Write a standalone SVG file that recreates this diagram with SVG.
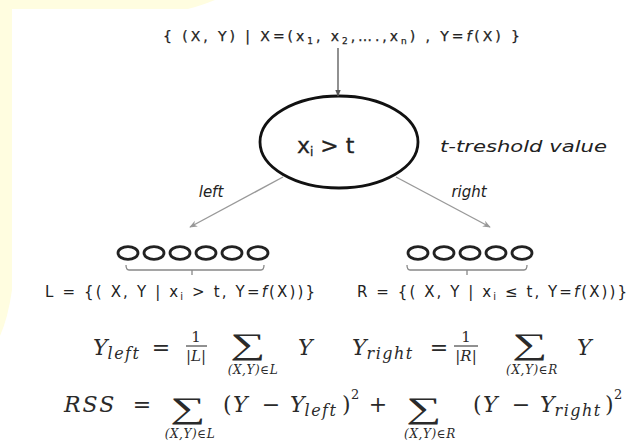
<svg xmlns="http://www.w3.org/2000/svg" width="632" height="445" viewBox="0 0 632 445">
<defs>
<marker id="ah" viewBox="0 0 10 10" refX="9" refY="5" markerWidth="7" markerHeight="7" orient="auto" markerUnits="userSpaceOnUse">
<path d="M0,1 L10,5 L0,9 Z" fill="#555"/>
</marker>
<marker id="ahg" viewBox="0 0 10 10" refX="9" refY="5" markerWidth="8" markerHeight="8" orient="auto" markerUnits="userSpaceOnUse">
<path d="M0,1 L10,5 L0,9 L3,5 Z" fill="#999"/>
</marker>
</defs>
<style>
.t{font-family:"DejaVu Sans","Open Sans",sans-serif;fill:#222;}
.m{font-family:"DejaVu Serif","Liberation Serif",serif;fill:#2a2a2a;font-style:italic;}
.u{font-family:"DejaVu Serif","Liberation Serif",serif;fill:#2a2a2a;}
.s{font-family:"Liberation Serif","DejaVu Serif",serif;fill:#2a2a2a;}
.i{font-style:italic;}
.dot{fill:none;stroke:#222;stroke-width:2.8;}
.br{fill:none;stroke:#888;stroke-width:1.3;}
.sub{font-size:16px;letter-spacing:1.5px;}
.lim{font-size:12px;letter-spacing:0.6px;}
</style>
<rect width="632" height="445" fill="#fff"/>
<path d="M0,0 H215 Q200,6 188,9 H12 V290 Q8,318 0,336 Z" fill="#fffde0"/>

<g id="source">
<text class="t" x="163" y="41" font-size="14" textLength="357" lengthAdjust="spacing" stroke="#222" stroke-width="0.25">{ (X, Y) | X=(x<tspan font-size="9" dy="3">1</tspan><tspan dy="-3">, x</tspan><tspan font-size="9" dy="3">2</tspan><tspan dy="-3">,….,x</tspan><tspan font-size="9" dy="3">n</tspan><tspan dy="-3">) , Y=</tspan><tspan class="i">f</tspan>(X) }</text>
</g>

<g id="split">
<ellipse cx="339" cy="142" rx="79" ry="46" fill="none" stroke="#111" stroke-width="2.8"/>
<text class="t" x="297" y="153" font-size="22" stroke="#222" stroke-width="0.3">x<tspan font-size="12" dy="3">i</tspan><tspan dy="-3"> &gt; t</tspan></text>
</g>

<g id="threshold">
<text class="t i" x="440" y="152" font-size="15" textLength="167" lengthAdjust="spacingAndGlyphs">t-treshold value</text>
</g>

<g id="connectors">
<line x1="338" y1="48" x2="338" y2="96" stroke="#555" stroke-width="1.3" marker-end="url(#ah)"/>
<line x1="283" y1="177" x2="190" y2="227" stroke="#999" stroke-width="1.4" marker-end="url(#ahg)"/>
<line x1="396" y1="177" x2="490" y2="227" stroke="#999" stroke-width="1.4" marker-end="url(#ahg)"/>
<text class="t i" x="211" y="197" font-size="15" text-anchor="middle">left</text>
<text class="t i" x="469" y="197" font-size="15" text-anchor="middle">right</text>
</g>

<g id="left-set">
<ellipse class="dot" cx="128" cy="253" rx="10" ry="6.3"/>
<ellipse class="dot" cx="154" cy="253" rx="10" ry="6.3"/>
<ellipse class="dot" cx="180" cy="253" rx="10" ry="6.3"/>
<ellipse class="dot" cx="206" cy="253" rx="10" ry="6.3"/>
<ellipse class="dot" cx="232" cy="253" rx="10" ry="6.3"/>
<ellipse class="dot" cx="258" cy="253" rx="10" ry="6.3"/>
<path class="br" d="M126,265 Q126,270 129,270 H261 Q264,270 264,265 M192,270 V275"/>
<text class="t" x="45" y="297" font-size="15" textLength="270" lengthAdjust="spacing">L = {( X, Y | x<tspan font-size="10" dy="3">i</tspan><tspan dy="-3"> &gt; t, Y=</tspan><tspan class="i">f</tspan>(X))}</text>
</g>

<g id="right-set">
<ellipse class="dot" cx="418" cy="253" rx="10" ry="6.3"/>
<ellipse class="dot" cx="444" cy="253" rx="10" ry="6.3"/>
<ellipse class="dot" cx="470" cy="253" rx="10" ry="6.3"/>
<ellipse class="dot" cx="496" cy="253" rx="10" ry="6.3"/>
<ellipse class="dot" cx="522" cy="253" rx="10" ry="6.3"/>
<path class="br" d="M407,265 Q407,270 410,270 H524 Q527,270 527,265 M467,270 V275"/>
<text class="t" x="357" y="297" font-size="15" textLength="270" lengthAdjust="spacing">R = {( X, Y | x<tspan font-size="10" dy="3">i</tspan><tspan dy="-3"> ≤ t, Y=</tspan><tspan class="i">f</tspan>(X))}</text>
</g>

<g id="mean-left">
<text class="m" x="93" y="355" font-size="22">Y<tspan class="sub" dy="4">left</tspan></text>
<text class="u" x="161" y="355" font-size="22" text-anchor="middle">=</text>
<text class="u" x="196" y="342" font-size="15" text-anchor="middle">1</text>
<line x1="186" y1="346" x2="207" y2="346" stroke="#222" stroke-width="1"/>
<text class="m" x="196" y="361" font-size="15" text-anchor="middle">|L|</text>
<text class="s" transform="translate(248,354) scale(1.65,1)" font-size="30" text-anchor="middle">∑</text>
<text class="m lim" x="253" y="374" text-anchor="middle">(X,Y)∈L</text>
<text class="m" x="298" y="355" font-size="22">Y</text>
</g>

<g id="mean-right">
<text class="m" x="352" y="355" font-size="22">Y<tspan class="sub" dy="4">right</tspan></text>
<text class="u" x="439" y="355" font-size="22" text-anchor="middle">=</text>
<text class="u" x="466" y="342" font-size="15" text-anchor="middle">1</text>
<line x1="454" y1="346" x2="478" y2="346" stroke="#222" stroke-width="1"/>
<text class="m" x="466" y="361" font-size="15" text-anchor="middle">|R|</text>
<text class="s" transform="translate(530,354) scale(1.65,1)" font-size="30" text-anchor="middle">∑</text>
<text class="m lim" x="532" y="374" text-anchor="middle">(X,Y)∈R</text>
<text class="m" x="577" y="355" font-size="22">Y</text>
</g>

<g id="rss">
<text class="m" x="64" y="412" font-size="22" letter-spacing="2">RSS</text>
<text class="u" x="142" y="412" font-size="22" text-anchor="middle">=</text>
<text class="s" transform="translate(188,418) scale(1.65,1)" font-size="30" text-anchor="middle">∑</text>
<text class="m lim" x="190" y="438" text-anchor="middle">(X,Y)∈L</text>
<text class="u" x="223" y="412" font-size="22">(</text>
<text class="m" x="233" y="412" font-size="22">Y</text>
<text class="u" x="271" y="412" font-size="22" text-anchor="middle">−</text>
<text class="m" x="290" y="412" font-size="22">Y<tspan class="sub" dy="4">left</tspan></text>
<text class="u" x="342" y="412" font-size="22">)</text>
<text class="u" x="351" y="399" font-size="13">2</text>
<text class="u" x="378" y="412" font-size="22" text-anchor="middle">+</text>
<text class="s" transform="translate(424,418) scale(1.65,1)" font-size="30" text-anchor="middle">∑</text>
<text class="m lim" x="430" y="438" text-anchor="middle">(X,Y)∈R</text>
<text class="u" x="473" y="412" font-size="22">(</text>
<text class="m" x="483" y="412" font-size="22">Y</text>
<text class="u" x="521" y="412" font-size="22" text-anchor="middle">−</text>
<text class="m" x="540" y="412" font-size="22">Y<tspan class="sub" dy="4">right</tspan></text>
<text class="u" x="605" y="412" font-size="22">)</text>
<text class="u" x="614" y="399" font-size="13">2</text>
</g>
</svg>
